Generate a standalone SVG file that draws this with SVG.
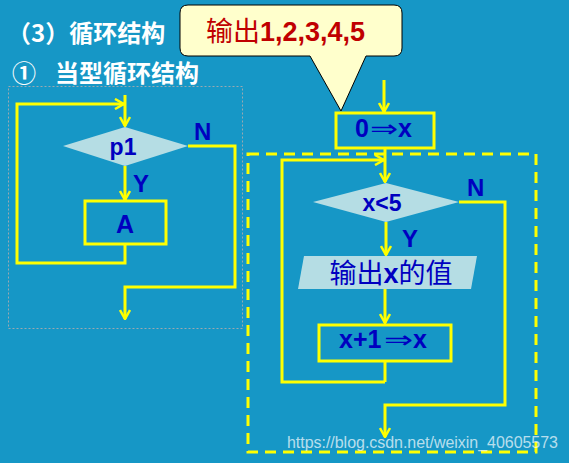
<svg xmlns="http://www.w3.org/2000/svg" width="569" height="463" viewBox="0 0 569 463">
<defs>
<style>
.bg{fill:#1697c6}
.ln{fill:none;stroke:#ffff00;stroke-width:3;stroke-linejoin:miter}
.box{fill:none;stroke:#ffff00;stroke-width:3}
.dia{fill:#b5dde4;stroke:none}
.lbl{font-family:"Liberation Sans",Arial,sans-serif;font-weight:bold;fill:#0000c0}
.cjk{font-family:"Noto Sans CJK SC",sans-serif;font-weight:normal}
.arr{font-family:"DejaVu Sans",sans-serif;font-weight:200}
.title{font-family:"Noto Sans CJK SC",sans-serif;font-weight:bold;fill:#ffffff;font-size:24px}
</style>
<marker id="ah" viewBox="0 0 12 12" refX="11" refY="6" markerWidth="12" markerHeight="12" markerUnits="userSpaceOnUse" orient="auto">
<polyline points="2,1 11,6 2,11" fill="none" stroke="#ffff00" stroke-width="2.5"/>
</marker>
</defs>
<rect class="bg" x="0" y="0" width="569" height="463"/>

<g id="titles">
<text class="title" x="7" y="42">（3）循环结构</text>
<text class="title" x="12" y="82" font-size="22">①</text>
<text class="title" x="55" y="82">当型循环结构</text>
</g>

<g id="callout">
<path d="M188,5 H394 Q402,5 402,13 V48 Q402,56 394,56 H366 L341,111 L310,56 H188 Q180,56 180,48 V13 Q180,5 188,5 Z" fill="#ffffcc" stroke="#000" stroke-width="1"/>
<text x="206" y="41" font-size="27" fill="#c00000"><tspan class="cjk">输出</tspan><tspan x="260" font-family="Liberation Sans,Arial,sans-serif" font-weight="bold" font-size="27">1,2,3,4,5</tspan></text>
</g>

<rect id="left-frame" x="8.5" y="86.5" width="234" height="242" fill="none" stroke="#9aa9b0" stroke-width="1" stroke-dasharray="2,2"/>

<g id="connectors">
<path class="ln" d="M125,95 V126" marker-end="url(#ah)"/>
<path class="ln" d="M125,166 V200" marker-end="url(#ah)"/>
<path class="ln" d="M125,244 V263 H17 V104 H124" marker-end="url(#ah)"/>
<path class="ln" d="M188,146 H235 V287 H125 V319" marker-end="url(#ah)"/>
<path class="ln" d="M384,80 V112" marker-end="url(#ah)"/>
<path class="ln" d="M385,148 V182" marker-end="url(#ah)"/>
<path class="ln" d="M385,382 H282 V160 H384" marker-end="url(#ah)"/>
<path class="ln" d="M386,222 V255" marker-end="url(#ah)"/>
<path class="ln" d="M385,289 V323" marker-end="url(#ah)"/>
<path class="ln" d="M385,361 V382"/>
<path class="ln" d="M459,202 H505 V405 H385 V437" marker-end="url(#ah)"/>
</g>

<g id="p1">
<polygon class="dia" points="63,146 125,127 188,146 125,166"/>
<text class="lbl" x="123" y="155" font-size="23" text-anchor="middle">p1</text>
</g>
<g id="left-labels">
<text class="lbl" x="133" y="192" font-size="24">Y</text>
<text class="lbl" x="194" y="140" font-size="24">N</text>
</g>
<g id="A">
<rect class="box" x="85" y="201" width="81" height="43"/>
<text class="lbl" x="125" y="233" font-size="25" text-anchor="middle">A</text>
</g>

<g id="init">
<rect class="box" x="336" y="113" width="98" height="35"/>
<text class="lbl" x="355" y="137" font-size="25">0</text>
<text class="lbl arr" x="370" y="137" font-size="24" textLength="28" lengthAdjust="spacingAndGlyphs">⇒</text>
<text class="lbl" x="398" y="137" font-size="25">x</text>
</g>

<rect id="loop-frame" x="248" y="154" width="288" height="298" fill="none" stroke="#ffff00" stroke-width="3" stroke-dasharray="11,7"/>

<g id="cond">
<polygon class="dia" points="313,202 386,183 459,202 386,222"/>
<text class="lbl" x="382" y="211" font-size="23" text-anchor="middle">x&lt;5</text>
</g>
<g id="right-labels">
<text class="lbl" x="402" y="247" font-size="24">Y</text>
<text class="lbl" x="467" y="196" font-size="24">N</text>
</g>
<g id="output">
<polygon class="dia" points="304,256 477,256 471,289 298,289"/>
<text class="lbl" x="391" y="283" font-size="27" text-anchor="middle"><tspan class="cjk">输出</tspan>x<tspan class="cjk">的值</tspan></text>
</g>
<g id="inc">
<rect class="box" x="319" y="325" width="132" height="36"/>
<text class="lbl" x="339" y="348" font-size="25">x+1</text>
<text class="lbl arr" x="384" y="348" font-size="24" textLength="29" lengthAdjust="spacingAndGlyphs">⇒</text>
<text class="lbl" x="413" y="348" font-size="25">x</text>
</g>

<text id="watermark" x="287" y="448" font-family="Liberation Sans,Arial,sans-serif" font-size="16" fill="#ffffff" fill-opacity="0.7" textLength="271">https://blog.csdn.net/weixin_40605573</text>
</svg>
